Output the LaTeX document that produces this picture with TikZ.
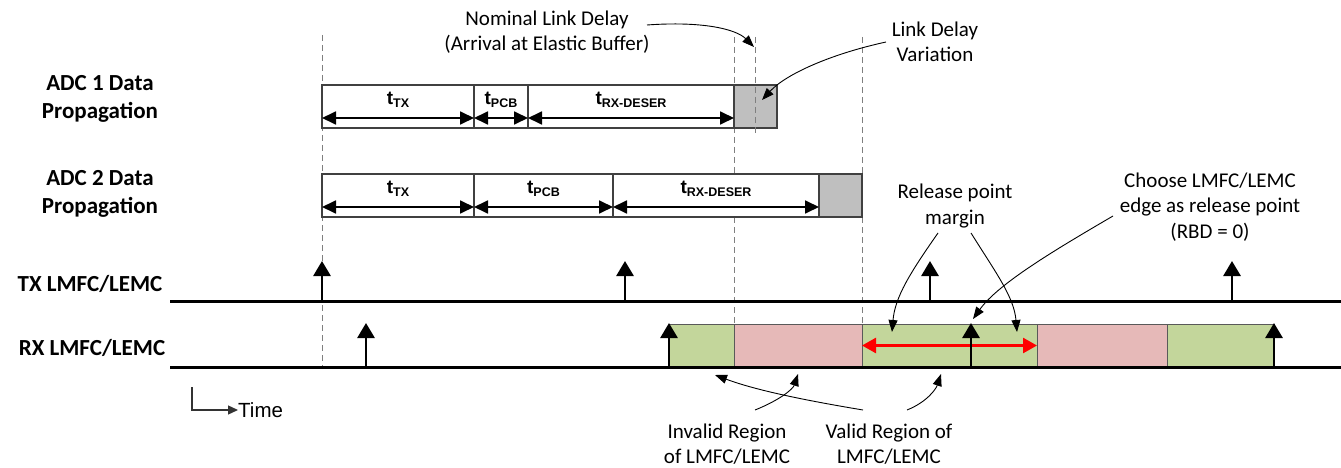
\documentclass[tikz,border=0pt]{standalone}
\usepackage{fontspec}
\setmainfont{Carlito}
\newfontfamily\arialfont{Liberation Sans}
\usetikzlibrary{arrows.meta}
\definecolor{validc}{HTML}{C3D69B}
\definecolor{invalidc}{HTML}{E6B9B8}
\definecolor{grayboxc}{HTML}{BFBFBF}
\definecolor{segline}{HTML}{404040}
\definecolor{dashc}{HTML}{7F7F7F}
\definecolor{marginred}{HTML}{FF0000}
\newcommand{\tsub}[1]{{\arialfont\bfseries\fontsize{19}{19}\selectfont t\raisebox{-3pt}{\fontsize{12.5}{12.5}\selectfont #1}}}
\begin{document}
\begin{tikzpicture}[x=1pt,y=-1pt,
 seg/.style={draw=segline,line width=1.2pt,fill=white,minimum height=43pt,inner sep=0pt,outer sep=0pt,anchor=north west},
 dim/.style={line width=1.8pt,{Triangle[length=14pt,width=13pt]}-{Triangle[length=14pt,width=13pt]}},
 guide/.style={draw=dashc,line width=0.9pt,dash pattern=on 6pt off 4pt},
 axisline/.style={line width=3pt},
 tick/.style={line width=2.8pt,-{Triangle[length=15pt,width=17pt]}},
 rowlab/.style={font=\bfseries\fontsize{23}{28}\selectfont,align=center,inner sep=0pt},
 note/.style={font=\fontsize{21}{25.5}\selectfont,align=center,inner sep=0pt},
 callout/.style={line width=0.9pt,-{Triangle[length=12pt,width=9pt]}},
 region/.style={draw=black!65,line width=1pt,minimum height=43pt,inner sep=0pt,outer sep=0pt,anchor=north west},
 marginarrow/.style={draw=marginred,line width=2.6pt,{Triangle[length=14pt,width=15pt]}-{Triangle[length=14pt,width=15pt]}},
 seglab/.style={inner sep=0pt}
]
\useasboundingbox (0,0) rectangle (1341,468);

% row labels
\node[rowlab] (adc1) at (100,99) {ADC 1 Data\\Propagation};
\node[rowlab] (adc2) at (100,194) {ADC 2 Data\\Propagation};
\node[rowlab] (txl) at (90,284) {TX LMFC/LEMC};
\node[rowlab] (rxl) at (92,348) {RX LMFC/LEMC};

% dashed guides
\draw[guide] (322,35) -- (322,368);
\draw[guide] (734,37) -- (734,324);
\draw[guide] (862,37) -- (862,324);

% ADC 1 segments
\node[seg,minimum width=152pt] (a1tx) at (322,85) {};
\node[seg,minimum width=54pt] (a1pcb) at (474,85) {};
\node[seg,minimum width=206pt] (a1rx) at (528,85) {};
\node[seg,minimum width=43pt,fill=grayboxc] (a1g) at (734,85) {};
\draw[guide] (755,37) -- (755,136);
\foreach \s in {a1tx,a1pcb,a1rx}{
  \draw[dim] ([yshift=10pt]\s.south west) -- ([yshift=10pt]\s.south east);
}
\node[seglab] (l1tx) at ([yshift=-15pt]a1tx.north) {\tsub{TX}};
\node[seglab] (l1pcb) at ([yshift=-15pt]a1pcb.north) {\tsub{PCB}};
\node[seglab] (l1rx) at ([yshift=-15pt]a1rx.north) {\tsub{RX-DESER}};

% ADC 2 segments
\node[seg,minimum width=152pt] (a2tx) at (322,174) {};
\node[seg,minimum width=139pt] (a2pcb) at (474,174) {};
\node[seg,minimum width=206pt] (a2rx) at (613,174) {};
\node[seg,minimum width=43pt,fill=grayboxc] (a2g) at (819,174) {};
\foreach \s in {a2tx,a2pcb,a2rx}{
  \draw[dim] ([yshift=10pt]\s.south west) -- ([yshift=10pt]\s.south east);
}
\node[seglab] (l2tx) at ([yshift=-15pt]a2tx.north) {\tsub{TX}};
\node[seglab] (l2pcb) at ([yshift=-15pt]a2pcb.north) {\tsub{PCB}};
\node[seglab] (l2rx) at ([yshift=-15pt]a2rx.north) {\tsub{RX-DESER}};

% RX regions
\node[region,fill=validc,minimum width=65pt] (r1) at (669,324) {};
\node[region,fill=invalidc,minimum width=128pt] (r2) at (734,324) {};
\node[region,fill=validc,minimum width=175pt] (r3) at (862,324) {};
\node[region,fill=invalidc,minimum width=130pt] (r4) at (1037,324) {};
\node[region,fill=validc,minimum width=107pt] (r5) at (1167,324) {};
\draw[marginarrow] (r3.west) -- (r3.east);

% timelines
\coordinate (txa) at (170,301);
\coordinate (txb) at (1341,301);
\coordinate (rxa) at (170,367);
\coordinate (rxb) at (1341,367);
\draw[axisline] (txa) -- (txb);
\draw[axisline] (rxa) -- (rxb);
\foreach \x in {322,625,930,1232}{
  \draw[tick] (\x,301) -- (\x,261);
}
\foreach \x in {366,669,971,1274}{
  \draw[tick] (\x,367) -- (\x,323);
}

% time legend
\node[anchor=west,font=\arialfont\fontsize{20.5}{20.5}\selectfont,inner sep=0pt] (time) at (238,410) {Time};
\coordinate (torig) at (192,387);
\draw[line width=1.3pt,draw=black!80,-{Triangle[length=10pt,width=9pt]}] (torig) |- (time.west);

% annotations
\node[note] (nld) at (547,32) {Nominal Link Delay\\(Arrival at Elastic Buffer)};
\node[note] (ldv) at (935,42) {Link Delay\\Variation};
\node[note] (rpm) at (955,206) {Release point\\margin};
\node[note] (cho) at (1210,207) {Choose LMFC/LEMC\\edge as release point\\(RBD = 0)};
\node[note] (inv) at (727,444) {Invalid Region\\of LMFC/LEMC};
\node[note] (val) at (889,444) {Valid Region of\\LMFC/LEMC};

\coordinate (nlds) at (647,25);  \coordinate (nldt) at (754,47);
\coordinate (ldvs) at (886,42);  \coordinate (ldvt) at (762,100);
\coordinate (rpls) at (938,233); \coordinate (rplt) at (892,332);
\coordinate (rprs) at (971,233); \coordinate (rprt) at (1017,332);
\coordinate (chos) at (1113,216); \coordinate (chot) at (973,319);
\coordinate (invs) at (755,410); \coordinate (invt) at (798,374);
\coordinate (vals) at (863,410); \coordinate (valt) at (715,375);
\coordinate (val2s) at (907,410); \coordinate (val2t) at (941,374);

\draw[callout] (nlds) .. controls +(55,-4) and +(-18,-18) .. (nldt);
\draw[callout] (ldvs) .. controls +(-55,12) and +(24,-26) .. (ldvt);
\draw[callout] (rpls) .. controls +(-28,40) and +(3,-35) .. (rplt);
\draw[callout] (rprs) .. controls +(25,40) and +(-3,-35) .. (rprt);
\draw[callout] (chos) .. controls +(-60,35) and +(25,-35) .. (chot);
\draw[callout] (invs) .. controls +(25,-10) and +(-5,15) .. (invt);
\draw[callout] (vals) .. controls +(-60,-10) and +(40,15) .. (valt);
\draw[callout] (val2s) .. controls +(20,-8) and +(-5,15) .. (val2t);
\end{tikzpicture}
\end{document}
